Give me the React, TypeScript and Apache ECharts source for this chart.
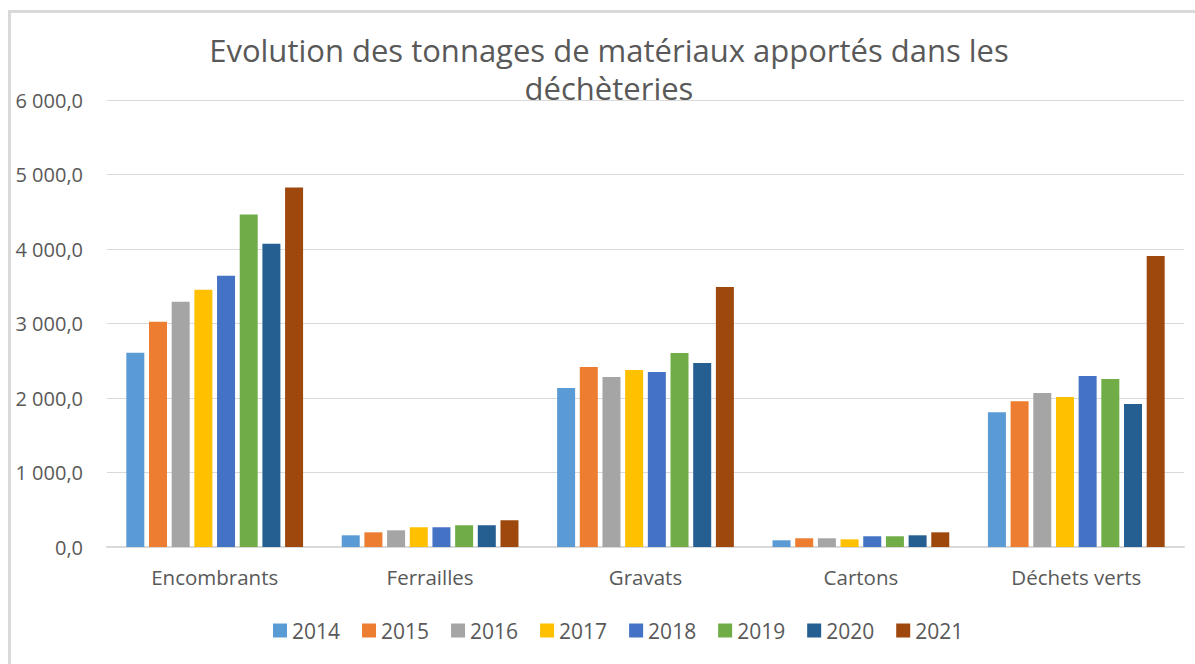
import React, { useEffect, useRef } from "react";
import * as echarts from "echarts";

const categories = ["Encombrants", "Ferrailles", "Gravats", "Cartons", "Déchets verts"];
const years = ["2014", "2015", "2016", "2017", "2018", "2019", "2020", "2021"];
const colors = ["#5B9BD5", "#ED7D31", "#A5A5A5", "#FFC000", "#4472C4", "#70AD47", "#255E91", "#9E480E"];

const v2014 = [2608, 157, 2133, 90, 1810];
const v2015 = [3024, 197, 2415, 117, 1958];
const v2016 = [3293, 224, 2281, 117, 2066];
const v2017 = [3454, 265, 2375, 103, 2012];
const v2018 = [3642, 265, 2348, 144, 2294];
const v2019 = [4462, 292, 2604, 144, 2254];
const v2020 = [4072, 292, 2469, 157, 1918];
const v2021 = [4825, 359, 3491, 197, 3907];
const seriesValues = [v2014, v2015, v2016, v2017, v2018, v2019, v2020, v2021];

const titleLine1 = "Evolution des tonnages de matériaux apportés dans les";
const titleLine2 = "déchèteries";

const FONT = "'Open Sans', sans-serif";
const TEXT = "#595959";

function fmt(v: number): string {
  const s = v.toFixed(1).replace(".", ",");
  const [ip, dp] = s.split(",");
  return ip.replace(/\B(?=(\d{3})+(?!\d))/g, " ") + "," + dp;
}

export default function App() {
  const ref = useRef<HTMLDivElement>(null);
  useEffect(() => {
    if (!ref.current) return;
    const chart = echarts.init(ref.current, undefined, { renderer: "svg" });
    chart.setOption({
      animation: false,
      backgroundColor: "#ffffff",
      textStyle: { fontFamily: FONT },
      grid: { left: 107, right: 11, top: 100, bottom: 117, containLabel: false },
      graphic: [
        {
          type: "rect",
          shape: { x: 9.5, y: 11.5, width: 1400, height: 900 },
          style: { fill: "none", stroke: "#d9d9d9", lineWidth: 3 },
          z: 0,
        },
        {
          type: "text",
          x: 609,
          y: 50,
          style: { text: titleLine1, fill: TEXT, font: `31px ${FONT}`, textAlign: "center", textVerticalAlign: "middle" },
          z: 10,
        },
        {
          type: "text",
          x: 609,
          y: 88,
          style: { text: titleLine2, fill: TEXT, font: `31px ${FONT}`, textAlign: "center", textVerticalAlign: "middle" },
          z: 10,
        },
      ],
      legend: {
        data: years,
        bottom: 18,
        left: 268,
        itemWidth: 14,
        itemHeight: 14,
        itemGap: 22,
        icon: "rect",
        textStyle: { fontSize: 21, color: TEXT, fontFamily: FONT },
      },
      xAxis: {
        type: "category",
        data: categories,
        axisLine: { lineStyle: { color: "#d9d9d9", width: 2 } },
        axisTick: { show: false },
        axisLabel: { fontSize: 20.5, color: TEXT, margin: 19, fontFamily: FONT },
      },
      yAxis: {
        type: "value",
        min: 0,
        max: 6000,
        interval: 1000,
        axisLine: { show: false },
        axisTick: { show: false },
        splitLine: { lineStyle: { color: "#d9d9d9", width: 1 } },
        axisLabel: { fontSize: 20, color: TEXT, margin: 24, fontFamily: FONT, formatter: (v: number) => fmt(v) },
      },
      series: years.map((y, i) => ({
        name: y,
        type: "bar",
        data: seriesValues[i],
        barWidth: 18,
        barGap: "26%",
        itemStyle: { color: colors[i] },
      })),
    });
    return () => chart.dispose();
  }, []);
  return <div ref={ref} style={{ position: "absolute", left: 0, top: 0, width: 1195, height: 664 }} />;
}
